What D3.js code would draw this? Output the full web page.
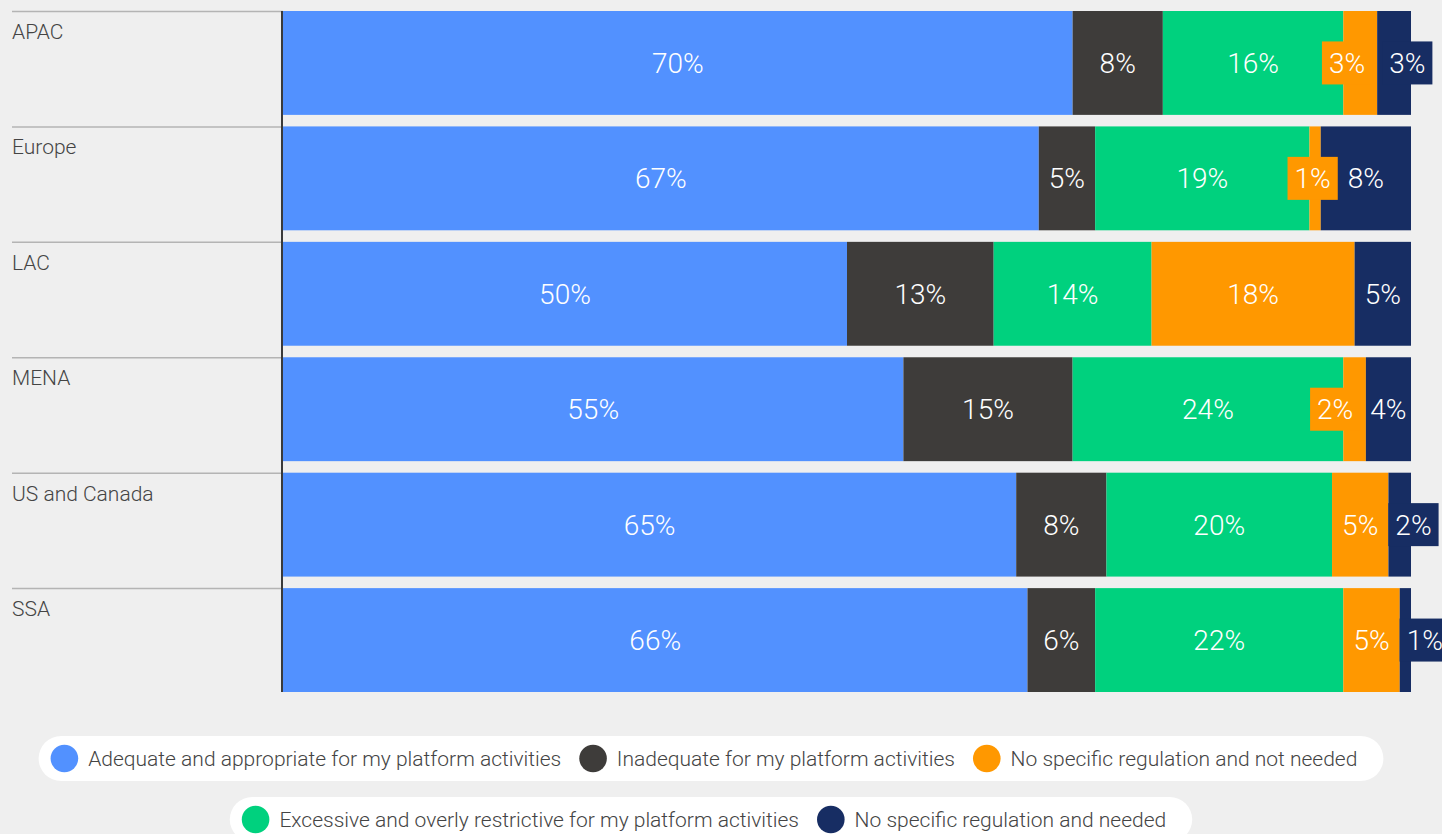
<!DOCTYPE html>
<html>
<head>
<meta charset="utf-8">
<script src="https://cdn.jsdelivr.net/npm/d3@7"></script>
<style>
  html, body { margin: 0; padding: 0; background: #efefef; }
  svg { display: block; }
</style>
</head>
<body>
<script>
// Regions (rows, top to bottom)
const categories = ["APAC", "Europe", "LAC", "MENA", "US and Canada", "SSA"];

// Response options, in stacking order
const seriesNames = [
  "Adequate and appropriate for my platform activities",
  "Inadequate for my platform activities",
  "Excessive and overly restrictive for my platform activities",
  "No specific regulation and not needed",
  "No specific regulation and needed"
];
const seriesKeys = ["adequate", "inadequate", "excessive", "notNeeded", "needed"];
const seriesColors = ["#5291ff", "#3e3c3a", "#00d17e", "#ff9800", "#172d63"];

// Share of respondents (%) per region
const adequate   = [70, 67, 50, 55, 65, 66];
const inadequate = [8, 5, 13, 15, 8, 6];
const excessive  = [16, 19, 14, 24, 20, 22];
const notNeeded  = [3, 1, 18, 2, 5, 5];
const needed     = [3, 8, 5, 4, 2, 1];

// Legend rows (indices into the series)
const legendRows = [[0, 1, 3], [2, 4]];

const W = 1442, H = 834;
const rows = categories.map((c, i) => ({
  category: c,
  adequate: adequate[i], inadequate: inadequate[i], excessive: excessive[i],
  notNeeded: notNeeded[i], needed: needed[i]
}));

const svg = d3.select("body").append("svg").attr("width", W).attr("height", H);
svg.append("rect").attr("width", W).attr("height", H).attr("fill", "#efefef");

const x = d3.scaleLinear().domain([0, 100]).range([283, 1411]);
const y = d3.scaleBand().domain(categories).range([11, 692]).paddingInner(0.1);
const color = d3.scaleOrdinal().domain(seriesKeys).range(seriesColors);

const stacked = d3.stack().keys(seriesKeys)(rows);

// Row separators and category names
const rowG = svg.append("g");
rowG.selectAll("line").data(categories).join("line")
  .attr("x1", 12).attr("x2", 283)
  .attr("y1", d => y(d) + 0.5).attr("y2", d => y(d) + 0.5)
  .attr("stroke", "#b4b4b4").attr("stroke-width", 1.5);
rowG.selectAll("text").data(categories).join("text")
  .attr("x", 12).attr("y", d => y(d) + 28)
  .attr("font-family", "Roboto, 'Liberation Sans', sans-serif")
  .attr("font-weight", 300)
  .attr("font-size", 21).attr("fill", "#444")
  .text(d => d);

// Bars
svg.append("g").selectAll("g").data(stacked).join("g")
  .attr("fill", d => color(d.key))
  .selectAll("rect").data(d => d).join("rect")
  .attr("x", d => x(d[0]))
  .attr("width", d => x(d[1]) - x(d[0]))
  .attr("y", d => y(d.data.category))
  .attr("height", y.bandwidth());

// Category axis line
svg.append("line")
  .attr("x1", 282).attr("x2", 282)
  .attr("y1", y.range()[0]).attr("y2", y.range()[1])
  .attr("stroke", "#3a3a3a").attr("stroke-width", 2);

// Value labels
const labelFont = "Roboto, 'Liberation Sans', sans-serif";
const labelSize = 28;
const measure = svg.append("text")
  .attr("font-family", labelFont).attr("font-weight", 300).attr("font-size", labelSize)
  .attr("visibility", "hidden");
function textWidth(s) { measure.text(s); return measure.node().getComputedTextLength(); }

const pad = 7, gap = 10, boxH = 43;
const labelG = svg.append("g");
categories.forEach((cat, ri) => {
  const items = stacked.map(layer => {
    const d = layer[ri];
    const v = d[1] - d[0];
    const txt = v + "%";
    const tw = textWidth(txt);
    const x0 = x(d[0]), x1 = x(d[1]);
    const fits = (x1 - x0) >= tw + 6;
    return { key: layer.key, txt, tw, fits, c: (x0 + x1) / 2,
             half: fits ? tw / 2 : tw / 2 + pad };
  });
  // push apart labels that do not fit inside their segment
  for (let it = 0; it < 30; it++) {
    for (let i = 0; i < items.length - 1; i++) {
      const a = items[i], b = items[i + 1];
      const need = a.half + b.half + gap;
      const d = b.c - a.c;
      if (d < need - 0.01) {
        const def = need - d;
        if (!a.fits && !b.fits) { a.c -= def / 2; b.c += def / 2; }
        else if (!a.fits) a.c -= def;
        else if (!b.fits) b.c += def;
      }
    }
  }
  const cy = y(cat) + y.bandwidth() / 2;
  const g = labelG.append("g");
  g.selectAll("rect").data(items.filter(d => !d.fits)).join("rect")
    .attr("x", d => d.c - d.half).attr("width", d => d.half * 2)
    .attr("y", cy - boxH / 2).attr("height", boxH)
    .attr("fill", d => color(d.key));
  g.selectAll("text").data(items).join("text")
    .attr("x", d => d.c).attr("y", cy + labelSize * 0.355)
    .attr("text-anchor", "middle")
    .attr("font-family", labelFont).attr("font-weight", 300)
    .attr("font-size", labelSize).attr("fill", "#fff")
    .text(d => d.txt);
});
measure.remove();

// Legend: rounded pills, centred
const legendFont = "Roboto, 'Liberation Sans', sans-serif";
const legendSize = 21;
const legendCenterX = 711;
const legendCenters = [758.5, 819.5];
const r = 13.8, pillH = 45;
legendRows.forEach((row, ri) => {
  const g = svg.append("g");
  const pill = g.append("rect");
  let cx = 0;
  const parts = [];
  row.forEach((si, k) => {
    const t = g.append("text")
      .attr("font-family", legendFont).attr("font-weight", 300)
      .attr("font-size", legendSize).attr("fill", "#444")
      .text(seriesNames[si]);
    const tw = t.node().getComputedTextLength();
    parts.push({ si, t, tw, start: cx });
    cx += 2 * r + 10 + tw + (k < row.length - 1 ? 18 : 0);
  });
  const total = 12 + cx + 26;
  const left = legendCenterX - total / 2;
  const cy = legendCenters[ri];
  pill.attr("x", left).attr("y", cy - pillH / 2)
    .attr("width", total).attr("height", pillH)
    .attr("rx", pillH / 2).attr("fill", "#fff");
  parts.forEach(p => {
    const x0 = left + 12 + p.start;
    g.append("circle").attr("cx", x0 + r).attr("cy", cy).attr("r", r)
      .attr("fill", seriesColors[p.si]);
    p.t.attr("x", x0 + 2 * r + 10).attr("y", cy + legendSize * 0.355);
  });
});
</script>
</body>
</html>
